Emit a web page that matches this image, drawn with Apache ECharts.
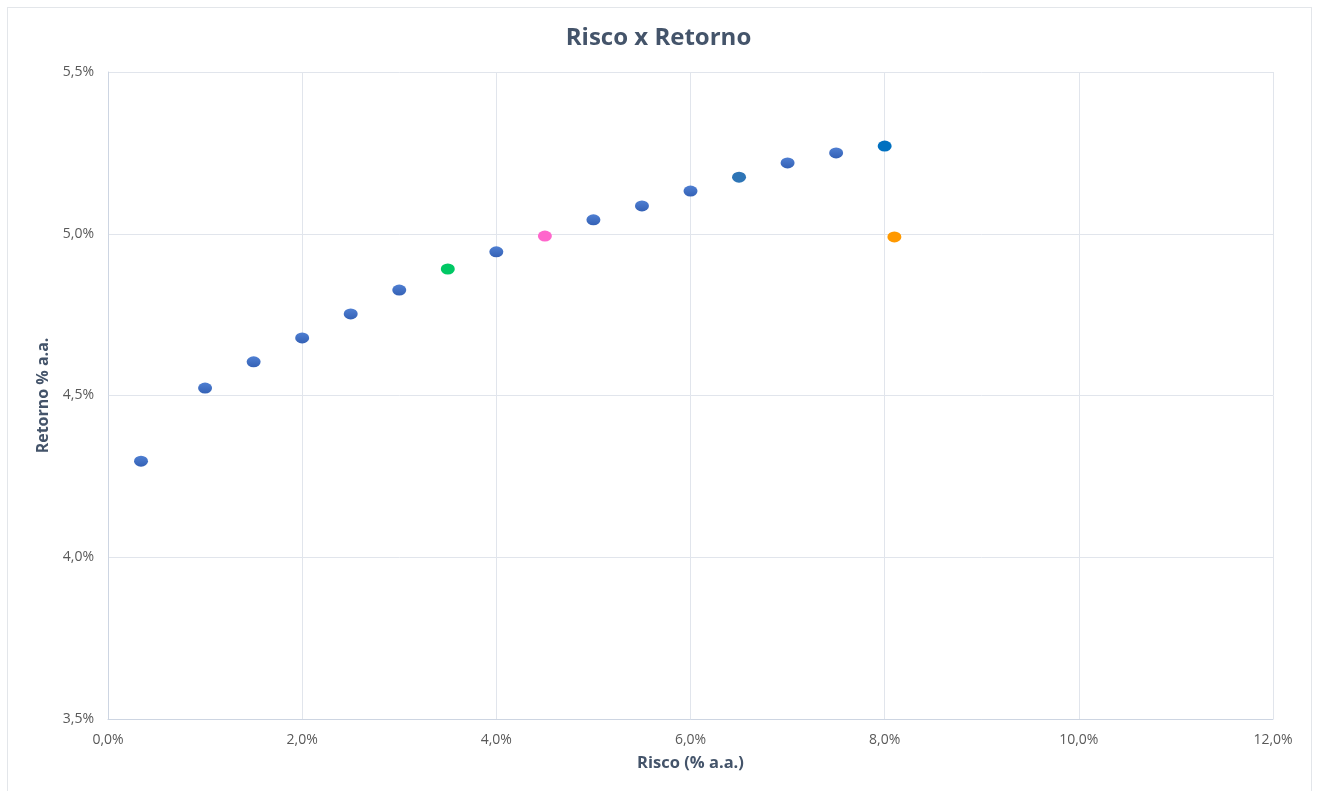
<!DOCTYPE html>
<html>
<head>
<meta charset="utf-8">
<script src="https://cdn.jsdelivr.net/npm/echarts@6/dist/echarts.min.js"></script>
<style>
  html, body { margin: 0; padding: 0; background: #fff; }
  #frame { position: absolute; left: 7px; top: 7px; width: 1305px; height: 800px; border: 1px solid #E3E6EA; box-sizing: border-box; }
  #chart { position: absolute; left: 0; top: 0; width: 1317px; height: 791px; }
</style>
</head>
<body>
<div id="frame"></div>
<div id="chart"></div>
<script>
// Efficient frontier portfolios (risk %, return %)
const risco   = [0.34, 1.0, 1.5, 2.0, 2.5, 3.0, 4.0, 5.0, 5.5, 6.0, 7.0, 7.5];
const retorno = [4.297, 4.523, 4.604, 4.678, 4.752, 4.826, 4.944, 5.043, 5.086, 5.132, 5.219, 5.250];

// Highlighted portfolios
const destaqueNomes   = ['Mínimo', 'Intermediária', 'Moderada', 'Máximo', 'Atual'];
const destaqueRisco   = [3.5, 4.5, 6.5, 8.0, 8.1];
const destaqueRetorno = [4.891, 4.993, 5.175, 5.271, 4.990];
const destaqueCores   = ['#00C864', '#FF66CC', '#2E75B6', '#0070C0', '#FF9900'];

const xTicks = { min: 0, max: 12, interval: 2 };
const yTicks = { min: 3.5, max: 5.5, interval: 0.5 };

const fmt = (v, d) => v.toFixed(d).replace('.', ',') + '%';
const font = '"Open Sans", "Noto Sans", sans-serif';

const frontierColor = new echarts.graphic.LinearGradient(0, 0, 0, 1, [
  { offset: 0, color: '#4F7FD2' },
  { offset: 1, color: '#3461B5' }
]);

const chart = echarts.init(document.getElementById('chart'), null, { renderer: 'canvas' });
chart.setOption({
  backgroundColor: 'transparent',
  animation: false,
  title: {
    text: 'Risco x Retorno',
    left: 'center',
    top: 21,
    textStyle: { fontFamily: font, fontSize: 24, fontWeight: 'bold', color: '#44546A' }
  },
  grid: { left: 108, right: 44, top: 72, bottom: 72, containLabel: false },
  xAxis: {
    type: 'value',
    min: xTicks.min, max: xTicks.max, interval: xTicks.interval,
    name: 'Risco (% a.a.)',
    nameLocation: 'middle',
    nameGap: 36,
    nameTextStyle: { fontFamily: font, fontSize: 16.5, fontWeight: 'bold', color: '#44546A' },
    axisLine: { show: true, lineStyle: { color: '#CDD5E2', width: 1 } },
    axisTick: { show: false },
    axisLabel: { margin: 14, fontFamily: font, fontSize: 14, color: '#595959', formatter: v => fmt(v, 1) },
    splitLine: { show: true, lineStyle: { color: '#E1E5EC', width: 1 } }
  },
  yAxis: {
    type: 'value',
    min: yTicks.min, max: yTicks.max, interval: yTicks.interval,
    name: 'Retorno % a.a.',
    nameLocation: 'middle',
    nameGap: 56,
    nameTextStyle: { fontFamily: font, fontSize: 16, fontWeight: 'bold', color: '#44546A' },
    axisLine: { show: true, lineStyle: { color: '#CDD5E2', width: 1 } },
    axisTick: { show: false },
    axisLabel: { margin: 14, fontFamily: font, fontSize: 14, color: '#595959', formatter: v => fmt(v, 1) },
    splitLine: { show: true, lineStyle: { color: '#E1E5EC', width: 1 } }
  },
  series: [
    {
      name: 'Fronteira',
      type: 'scatter',
      symbol: 'circle',
      symbolSize: [14, 11],
      itemStyle: { color: frontierColor, opacity: 1 },
      data: risco.map((x, i) => [x, retorno[i]])
    },
    {
      name: 'Destaques',
      type: 'scatter',
      symbol: 'circle',
      symbolSize: [14, 11],
      itemStyle: { opacity: 1 },
      data: destaqueRisco.map((x, i) => ({
        name: destaqueNomes[i],
        value: [x, destaqueRetorno[i]],
        itemStyle: { color: destaqueCores[i], opacity: 1 }
      }))
    }
  ]
});
</script>
</body>
</html>
